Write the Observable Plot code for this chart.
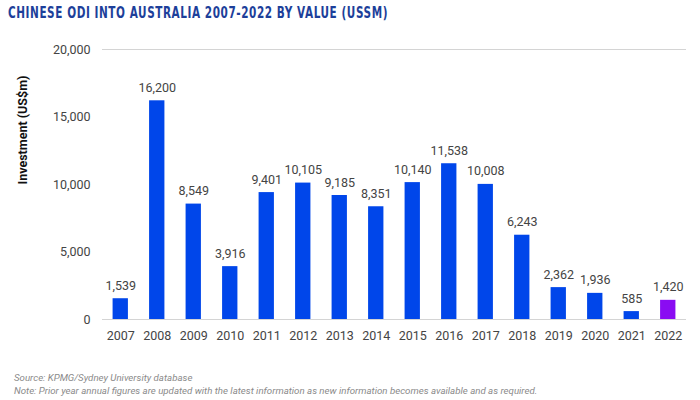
<!DOCTYPE html>
<html><head><meta charset="utf-8">
<script src="https://cdn.jsdelivr.net/npm/d3@7"></script>
<script src="https://cdn.jsdelivr.net/npm/@observablehq/plot@0.6"></script>
<style>
body{margin:0;background:#fff;font-family:Roboto,"Liberation Sans",sans-serif;}
#titlebox{height:26px;line-height:26px;padding-left:8px;white-space:nowrap;overflow:visible;}
#title{display:inline-block;transform-origin:0 50%;font-family:"DejaVu Sans Condensed","Liberation Sans Narrow",sans-serif;font-weight:bold;font-size:16.5px;letter-spacing:0.8px;color:#1d3f9a;}
#cap{padding-left:14px;font-style:italic;font-size:9.7px;color:#8a8a8a;line-height:13px;margin-top:15px;}
</style></head><body>
<div id="titlebox"><span id="title">CHINESE ODI INTO AUSTRALIA 2007-2022 BY VALUE (USSM)</span></div>
<div id="chart"></div>
<div id="cap">Source: KPMG/Sydney University database<br>Note: Prior year annual figures are updated with the latest information as new information becomes available and as required.</div>
<script>
const years = ["2007","2008","2009","2010","2011","2012","2013","2014","2015","2016","2017","2018","2019","2020","2021","2022"];
const values = [1539,16200,8549,3916,9401,10105,9185,8351,10140,11538,10008,6243,2362,1936,585,1420];
const yTicks = [0,5000,10000,15000,20000];
const data = years.map((y,i)=>({year:y,value:values[i],latest:y==="2022"}));
const fmt = d3.format(",");
const chart = Plot.plot({
  width:700, height:330,
  marginTop:23, marginBottom:37, marginLeft:102, marginRight:14,
  style:{fontFamily:"Roboto, 'Liberation Sans', sans-serif", fontSize:"12.5px", color:"#444"},
  x:{domain:years, paddingInner:0.58, paddingOuter:0.29, round:false, label:null, tickSize:0, tickPadding:12},
  y:{domain:[0,20000], ticks:yTicks, tickFormat:fmt, label:null, tickSize:0, tickPadding:12},
  marks:[
    Plot.ruleY([0,20000],{stroke:"#d4d4d4", strokeWidth:1.2}),
    Plot.barY(data,{x:"year", y:"value", fill:d=>d.latest?"#8a0cf2":"#0046ea"}),
    Plot.text(data,{x:"year", y:"value", text:d=>fmt(d.value), dy:-13, fontSize:12.5, fill:"#444"}),
    Plot.axisX({tickSize:0, tickPadding:12, fontSize:12.5}),
    Plot.axisY({ticks:yTicks, tickFormat:fmt, tickSize:0, tickPadding:12, label:null}),
    Plot.text(["Investment (US$m)"],{frameAnchor:"left", dx:-80, rotate:-90, fontWeight:"bold", fontSize:12.5, fill:"#111"})
  ]
});
document.getElementById("chart").appendChild(chart);
const t = document.getElementById("title");
const w = t.getBoundingClientRect().width;
t.style.transform = `scaleX(${380 / w})`;
</script>
</body></html>
